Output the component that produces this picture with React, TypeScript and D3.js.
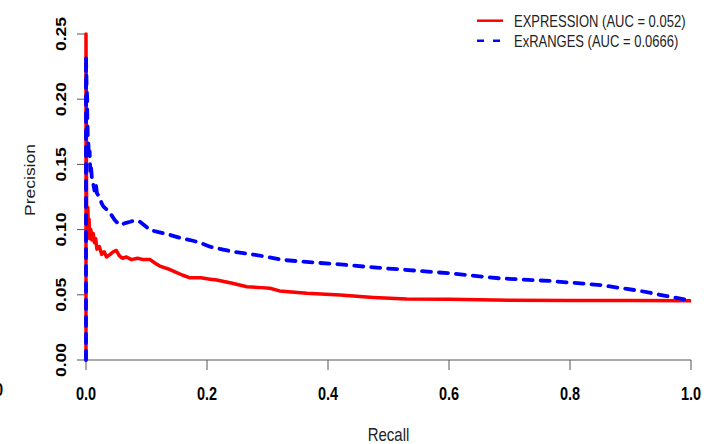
import React from "react";
import * as d3 from "d3";

const expressionRecall = [0, 0, 0.001, 0.002, 0.003, 0.004, 0.005, 0.006, 0.008, 0.01, 0.012, 0.014, 0.016, 0.018, 0.022, 0.026, 0.03, 0.034, 0.04, 0.045, 0.05, 0.055, 0.06, 0.067, 0.075, 0.085, 0.095, 0.106, 0.115, 0.122, 0.135, 0.15, 0.16, 0.172, 0.19, 0.205, 0.216, 0.24, 0.266, 0.29, 0.304, 0.32, 0.365, 0.42, 0.475, 0.53, 0.6, 0.7, 0.8, 0.9, 1.0];
const expressionPrecision = [0, 0.25, 0.12, 0.095, 0.117, 0.1, 0.108, 0.093, 0.1, 0.092, 0.097, 0.09, 0.093, 0.085, 0.087, 0.081, 0.083, 0.079, 0.081, 0.083, 0.084, 0.08, 0.078, 0.079, 0.077, 0.078, 0.077, 0.077, 0.074, 0.072, 0.07, 0.067, 0.065, 0.063, 0.063, 0.062, 0.0613, 0.059, 0.0562, 0.0555, 0.055, 0.053, 0.0511, 0.0498, 0.048, 0.0467, 0.0465, 0.0458, 0.0457, 0.0457, 0.0455];

const exrangesRecall = [0, 0, 0.001, 0.002, 0.002, 0.003, 0.004, 0.005, 0.006, 0.007, 0.008, 0.01, 0.012, 0.014, 0.016, 0.018, 0.022, 0.026, 0.029, 0.035, 0.04, 0.048, 0.056, 0.065, 0.073, 0.08, 0.089, 0.1, 0.106, 0.12, 0.139, 0.16, 0.172, 0.188, 0.205, 0.243, 0.282, 0.326, 0.381, 0.42, 0.48, 0.519, 0.6, 0.684, 0.767, 0.85, 0.916, 0.96, 1.0];
const exrangesPrecision = [0, 0.233, 0.21, 0.2, 0.19, 0.17, 0.165, 0.155, 0.16, 0.145, 0.15, 0.138, 0.135, 0.13, 0.136, 0.128, 0.125, 0.12, 0.1176, 0.115, 0.1126, 0.107, 0.1035, 0.105, 0.106, 0.107, 0.106, 0.102, 0.0997, 0.098, 0.0959, 0.093, 0.092, 0.09, 0.0869, 0.083, 0.0805, 0.0767, 0.0746, 0.0733, 0.0708, 0.0695, 0.0665, 0.0626, 0.0606, 0.0575, 0.053, 0.049, 0.0455];

const xTicks = [0, 0.2, 0.4, 0.6, 0.8, 1.0];
const xTickLabels = ["0.0", "0.2", "0.4", "0.6", "0.8", "1.0"];
const yTicks = [0, 0.05, 0.1, 0.15, 0.2, 0.25];
const yTickLabels = ["0.00", "0.05", "0.10", "0.15", "0.20", "0.25"];
const legendLabels = ["EXPRESSION (AUC = 0.052)", "ExRANGES (AUC = 0.0666)"];

const FONT = "'Liberation Sans', Arial, Helvetica, sans-serif";
const SY = 1.25;

export default function App() {
  const x = d3.scaleLinear().domain([0, 1]).range([86, 691]);
  const y = d3.scaleLinear().domain([0, 0.25]).range([360, 34]);
  const line = d3
    .line<[number, number]>()
    .x((d) => x(d[0]))
    .y((d) => y(d[1]));
  const redPts = expressionRecall.map((r, i) => [r, expressionPrecision[i]] as [number, number]);
  const bluePts = exrangesRecall.map((r, i) => [r, exrangesPrecision[i]] as [number, number]);
  const axisColor = "#555";

  return (
    <svg
      width={704}
      height={444}
      style={{ position: "absolute", left: 0, top: 0, display: "block", background: "#fff" }}
      fontFamily={FONT}
    >
      <rect x={0} y={0} width={704} height={444} fill="#fff" />
      {/* axes */}
      <line x1={x(0)} x2={x(1)} y1={360} y2={360} stroke={axisColor} strokeWidth={1} />
      <line x1={86} x2={86} y1={y(0)} y2={y(0.25)} stroke={axisColor} strokeWidth={1} />
      {xTicks.map((t, i) => (
        <g key={"xt" + i}>
          <line x1={x(t)} x2={x(t)} y1={360} y2={370} stroke={axisColor} strokeWidth={1} />
          <text
            transform={`translate(${x(t)},400) scale(1,${SY})`}
            textAnchor="middle"
            fontSize={14.5}
            fontWeight="bold"
            fill="#000"
          >
            {xTickLabels[i]}
          </text>
        </g>
      ))}
      {yTicks.map((t, i) => (
        <g key={"yt" + i}>
          <line x1={77} x2={86} y1={y(t)} y2={y(t)} stroke={axisColor} strokeWidth={1} />
          <text
            transform={`translate(65.5,${y(t)}) scale(1,${SY}) rotate(-90)`}
            textAnchor="middle"
            fontSize={14}
            fontWeight="bold"
            fill="#000"
          >
            {yTickLabels[i]}
          </text>
        </g>
      ))}
      <text transform={`translate(3,396) scale(1,${SY})`} textAnchor="end" fontSize={14.5} fontWeight="bold" fill="#000">
        0
      </text>
      {/* axis titles */}
      <text transform={`translate(${(x(0) + x(1)) / 2},441) scale(1,${SY})`} textAnchor="middle" fontSize={15} fill="#222">
        Recall
      </text>
      <text transform={`translate(35,180) scale(1,${SY}) rotate(-90)`} textAnchor="middle" fontSize={14} fill="#222">
        Precision
      </text>
      {/* curves */}
      <path d={line(redPts) || ""} fill="none" stroke="#ff0000" strokeWidth={3.5} strokeLinejoin="round" />
      <path
        d={line(bluePts) || ""}
        fill="none"
        stroke="#0000ff"
        strokeWidth={3.8}
        strokeDasharray="9,8"
        strokeLinecap="round"
        strokeLinejoin="round"
      />
      {/* legend */}
      <line x1={477} x2={503} y1={20.7} y2={20.7} stroke="#ff0000" strokeWidth={2.5} />
      <line x1={477} x2={503} y1={40.7} y2={40.7} stroke="#0000ff" strokeWidth={2.5} strokeDasharray="7,9" />
      {legendLabels.map((l, i) => (
        <text
          key={"lg" + i}
          transform={`translate(514,${26.5 + i * 20}) scale(1,${SY})`}
          fontSize={13}
          fill="#222"
        >
          {l}
        </text>
      ))}
    </svg>
  );
}
